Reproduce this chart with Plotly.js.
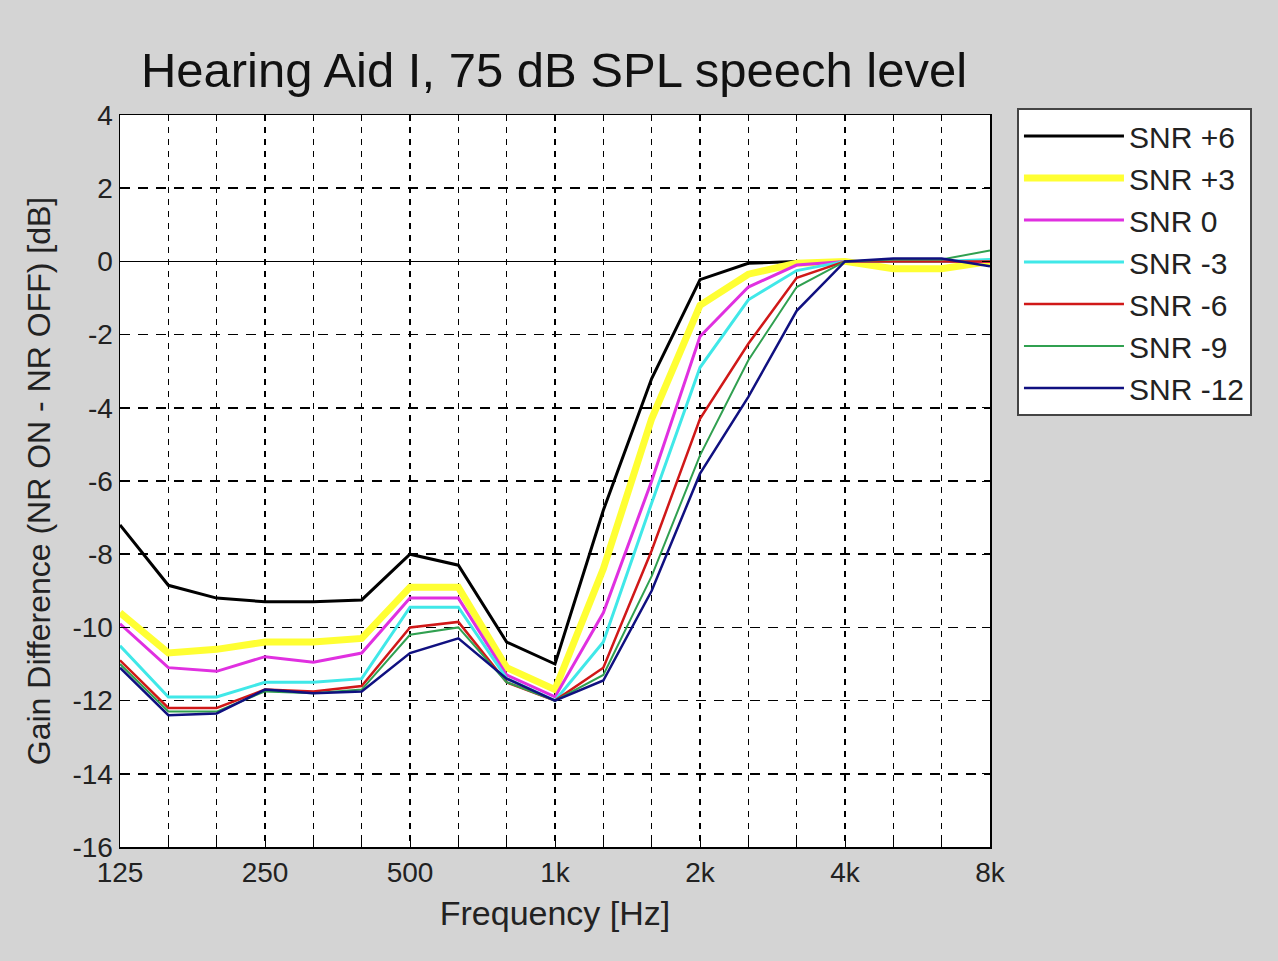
<!DOCTYPE html>
<html>
<head>
<meta charset="utf-8">
<script src="https://cdn.plot.ly/plotly-3.0.1.min.js"></script>
<style>
html,body{margin:0;padding:0;background:#d4d4d4;}
#chart{width:1278px;height:961px;}
</style>
</head>
<body>
<div id="chart"></div>
<script>
// Third-octave centre frequencies (Hz)
const freqs = [125, 157.5, 198.4, 250, 315.0, 396.9, 500, 630.0, 793.7, 1000, 1259.9, 1587.4, 2000, 2519.8, 3174.8, 4000, 5039.7, 6349.6, 8000];

// Gain difference (dB) per SNR condition
const snrP6  = [-7.2, -8.85, -9.2, -9.3, -9.3, -9.25, -8.0, -8.3, -10.4, -11.0, -6.8, -3.2, -0.5, -0.05, 0, 0, 0, 0, 0];
const snrP3  = [-9.6, -10.7, -10.6, -10.4, -10.4, -10.3, -8.9, -8.9, -11.1, -11.7, -8.4, -4.3, -1.2, -0.35, -0.05, 0, -0.2, -0.2, 0];
const snr0   = [-9.9, -11.1, -11.2, -10.8, -10.95, -10.7, -9.2, -9.2, -11.3, -11.9, -9.6, -6.0, -2.05, -0.7, -0.1, 0, 0, 0, 0];
const snrM3  = [-10.5, -11.9, -11.9, -11.5, -11.5, -11.4, -9.45, -9.45, -11.4, -12.0, -10.4, -6.6, -2.9, -1.05, -0.25, 0, 0, 0, 0.05];
const snrM6  = [-10.9, -12.2, -12.2, -11.7, -11.75, -11.6, -10.0, -9.85, -11.5, -12.0, -11.1, -7.9, -4.3, -2.25, -0.45, 0, 0, 0, 0];
const snrM9  = [-11.0, -12.3, -12.3, -11.75, -11.8, -11.7, -10.2, -10.0, -11.5, -12.0, -11.3, -8.6, -5.3, -2.7, -0.7, 0, 0.05, 0.05, 0.3];
const snrM12 = [-11.1, -12.4, -12.35, -11.7, -11.8, -11.75, -10.7, -10.3, -11.4, -12.0, -11.45, -9.0, -5.8, -3.7, -1.35, 0, 0.08, 0.08, -0.13];

const seriesNames = ['SNR +6', 'SNR +3', 'SNR 0', 'SNR -3', 'SNR -6', 'SNR -9', 'SNR -12'];
const seriesData = [snrP6, snrP3, snr0, snrM3, snrM6, snrM9, snrM12];
const seriesColors = ['#000000', '#ffff33', '#e030e0', '#40e8e8', '#d01818', '#30a050', '#101080'];
const seriesWidths = [3, 7, 3, 3, 2.5, 2, 2.5];

const xTickVals = [125, 250, 500, 1000, 2000, 4000, 8000];
const xTickText = ['125', '250', '500', '1k', '2k', '4k', '8k'];
const yTickVals = [-16, -14, -12, -10, -8, -6, -4, -2, 0, 2, 4];
const yTickText = ['-16', '-14', '-12', '-10', '-8', '-6', '-4', '-2', '0', '2', '4'];

const traces = seriesNames.map((n, i) => ({
  x: freqs,
  y: seriesData[i],
  name: n,
  type: 'scatter',
  mode: 'lines',
  line: {color: seriesColors[i], width: seriesWidths[i]}
}));

const FONT = 'Arial, "Liberation Sans", sans-serif';

const layout = {
  width: 1278,
  height: 961,
  paper_bgcolor: '#d4d4d4',
  plot_bgcolor: '#ffffff',
  margin: {l: 120, r: 288, t: 115, b: 114},
  font: {family: FONT, color: '#222222', size: 28},
  title: {
    text: 'Hearing Aid I, 75 dB SPL speech level',
    font: {family: FONT, size: 49, color: '#111111'},
    x: 0.4335, xanchor: 'center',
    y: 0.927, yanchor: 'middle'
  },
  xaxis: {
    type: 'log',
    range: [Math.log10(125), Math.log10(8000)],
    tickmode: 'array',
    tickvals: xTickVals,
    ticktext: xTickText,
    ticks: 'inside',
    ticklen: 8,
    tickcolor: '#000',
    showline: true,
    linecolor: '#000',
    linewidth: 1.5,
    mirror: true,
    showgrid: true,
    gridcolor: '#000',
    gridwidth: 1.5,
    griddash: '6px,6px',
    tickfont: {family: FONT, size: 28, color: '#222'},
    title: {text: 'Frequency [Hz]', font: {family: FONT, size: 34, color: '#222'}, standoff: 14},
    minor: {
      tickmode: 'array',
      tickvals: freqs,
      ticks: 'inside',
      ticklen: 8,
      tickcolor: '#000',
      showgrid: true,
      gridcolor: '#000',
      gridwidth: 1.5,
      griddash: '6px,6px'
    },
    zeroline: false
  },
  yaxis: {
    range: [-16, 4],
    tickmode: 'array',
    tickvals: yTickVals,
    ticktext: yTickText,
    ticks: 'inside',
    ticklen: 8,
    tickcolor: '#000',
    showline: true,
    linecolor: '#000',
    linewidth: 1.5,
    mirror: 'ticks',
    showgrid: true,
    gridcolor: '#000',
    gridwidth: 1.5,
    griddash: '10px,8px',
    zeroline: true,
    zerolinecolor: '#000',
    zerolinewidth: 1.2,
    tickfont: {family: FONT, size: 28, color: '#222'},
    title: {text: 'Gain Difference (NR ON - NR OFF) [dB]', font: {family: FONT, size: 32, color: '#222'}, standoff: 12}
  },
  showlegend: true,
  legend: {
    x: 1.031, xanchor: 'left',
    y: 1.0096, yanchor: 'top',
    bgcolor: '#ffffff',
    bordercolor: '#444',
    borderwidth: 2,
    font: {family: FONT, size: 30, color: '#222'},
    itemwidth: 100,
    tracegroupgap: 0
  }
};

Plotly.newPlot('chart', traces, layout, {displayModeBar: false, staticPlot: true});
</script>
</body>
</html>
